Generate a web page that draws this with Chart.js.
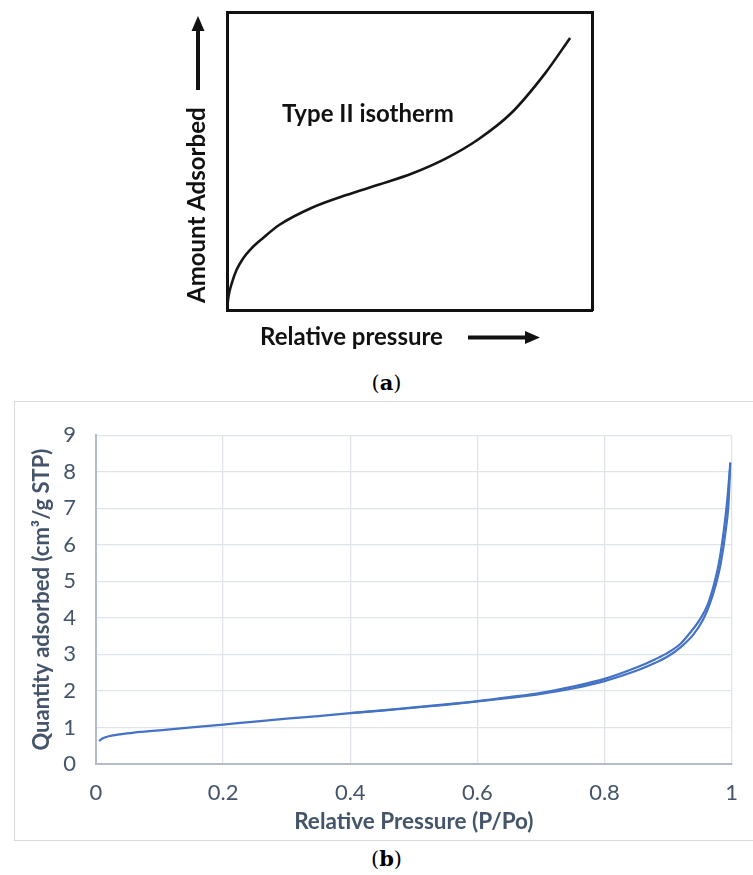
<!DOCTYPE html>
<html>
<head>
<meta charset="utf-8">
<script src="https://cdn.jsdelivr.net/npm/chart.js@4.4.1/dist/chart.umd.min.js"></script>
<style>
  body { margin: 0; background: #fff; width: 753px; height: 875px; position: relative; overflow: hidden; }
  #wrapA { position: absolute; left: 170px; top: 0; width: 440px; height: 360px; }
  #wrapB { position: absolute; left: 14px; top: 401px; width: 760px; height: 440px;
           border: 1px solid #d9d9d9; box-sizing: border-box; }
  #canvasB { position: absolute; left: 0; top: 0; }
  .cap { position: absolute; left: 0; width: 753px; text-align: center; transform: translateX(10px);
         font-family: "DejaVu Serif", "Liberation Serif", serif; font-size: 21px; color: #000; }
</style>
</head>
<body>
<div id="wrapA"><canvas id="canvasA" width="440" height="360"></canvas></div>
<div class="cap" style="top: 370px;">(<b>a</b>)</div>
<div id="wrapB"><canvas id="canvasB" width="739" height="438"></canvas></div>
<div class="cap" style="top: 846px;">(<b>b</b>)</div>
<script>
// (a) schematic Type II isotherm
const sketchP = [0, 0.004, 0.013, 0.026, 0.044, 0.067, 0.099, 0.144, 0.234, 0.327, 0.417, 0.507,
  0.599, 0.689, 0.779, 0.872, 0.94];
const sketchQ = [0, 0.045, 0.089, 0.134, 0.173, 0.207, 0.242, 0.286, 0.344, 0.386, 0.421, 0.458,
  0.508, 0.573, 0.661, 0.795, 0.913];

// (b) measured isotherm, adsorption and desorption branches
const adsP = [0.005, 0.01, 0.02, 0.04, 0.06, 0.1, 0.15, 0.2, 0.25, 0.3, 0.35, 0.4, 0.45, 0.5, 0.55, 0.6,
  0.65, 0.7, 0.75, 0.8, 0.85, 0.88, 0.9, 0.92, 0.94, 0.955, 0.965, 0.975, 0.983, 0.99, 0.995, 0.998];
const adsQ = [0.63, 0.7, 0.76, 0.82, 0.86, 0.92, 1.0, 1.08, 1.16, 1.24, 1.31, 1.39, 1.46, 1.54, 1.62, 1.71,
  1.81, 1.92, 2.07, 2.27, 2.55, 2.77, 2.95, 3.2, 3.55, 3.95, 4.35, 4.9, 5.5, 6.3, 7.1, 8.25];
const desP = [0.4, 0.45, 0.5, 0.55, 0.6, 0.65, 0.7, 0.75, 0.8, 0.85, 0.88, 0.9, 0.92, 0.935, 0.95,
  0.962, 0.972, 0.98, 0.987, 0.993, 0.998];
const desQ = [1.39, 1.47, 1.55, 1.63, 1.72, 1.83, 1.95, 2.12, 2.33, 2.64, 2.87, 3.05, 3.3, 3.6, 3.95,
  4.35, 4.9, 5.5, 6.3, 7.2, 8.25];

const yTicks = [0, 1, 2, 3, 4, 5, 6, 7, 8, 9];
const xTicks = [0, 0.2, 0.4, 0.6, 0.8, 1];

const toPoints = (xs, ys) => xs.map((x, i) => ({ x: x, y: ys[i] }));

const ink = "#44546a";
const uiFont = "Lato, 'Open Sans', sans-serif";

// arrows + labels for the sketch
const sketchLabels = {
  id: "sketchLabels",
  afterDraw(chart) {
    const ctx = chart.ctx;
    ctx.save();
    ctx.fillStyle = "#111";
    ctx.strokeStyle = "#111";
    ctx.font = "bold 24px " + uiFont;
    ctx.textBaseline = "alphabetic";
    ctx.fillText("Type II isotherm", 112, 122);
    ctx.fillText("Relative pressure", 90, 345);

    // right arrow
    ctx.lineWidth = 4;
    ctx.beginPath();
    ctx.moveTo(298, 337.5);
    ctx.lineTo(358, 337.5);
    ctx.stroke();
    ctx.beginPath();
    ctx.moveTo(370, 337.5);
    ctx.lineTo(355, 331);
    ctx.lineTo(355, 344);
    ctx.closePath();
    ctx.fill();

    // vertical label + up arrow
    ctx.save();
    ctx.translate(35, 303);
    ctx.rotate(-Math.PI / 2);
    ctx.fillText("Amount Adsorbed", 0, 0);
    ctx.restore();
    ctx.beginPath();
    ctx.moveTo(28, 90);
    ctx.lineTo(28, 28);
    ctx.stroke();
    ctx.beginPath();
    ctx.moveTo(28, 16);
    ctx.lineTo(21.5, 31);
    ctx.lineTo(34.5, 31);
    ctx.closePath();
    ctx.fill();
    ctx.restore();
  },
};

const boxBorder = { display: true, color: "#111", width: 3 };
const hidden = { display: false };

new Chart(document.getElementById("canvasA"), {
  type: "line",
  data: {
    datasets: [
      {
        data: toPoints(sketchP, sketchQ),
        borderColor: "#151515",
        borderWidth: 2.6,
        pointRadius: 0,
        cubicInterpolationMode: "monotone",
      },
    ],
  },
  options: {
    responsive: false,
    animation: false,
    plugins: { legend: hidden, tooltip: { enabled: false } },
    layout: { padding: 0 },
    scales: {
      x: {
        type: "linear", min: 0, max: 1, position: "bottom",
        ticks: hidden, grid: { display: false, drawTicks: false }, border: boxBorder,
        afterFit: (s) => { s.height = 50; },
      },
      x2: {
        type: "linear", min: 0, max: 1, position: "top",
        ticks: hidden, grid: { display: false, drawTicks: false }, border: boxBorder,
        afterFit: (s) => { s.height = 12; },
      },
      y: {
        type: "linear", min: 0, max: 1, position: "left",
        ticks: hidden, grid: { display: false, drawTicks: false }, border: boxBorder,
        afterFit: (s) => { s.width = 57; },
      },
      y2: {
        type: "linear", min: 0, max: 1, position: "right",
        ticks: hidden, grid: { display: false, drawTicks: false }, border: boxBorder,
        afterFit: (s) => { s.width = 18; },
      },
    },
  },
  plugins: [sketchLabels],
});

new Chart(document.getElementById("canvasB"), {
  type: "line",
  data: {
    datasets: [
      {
        label: "Adsorption",
        data: toPoints(adsP, adsQ),
        borderColor: "#4472c4",
        borderWidth: 2.2,
        pointRadius: 0,
        cubicInterpolationMode: "monotone",
      },
      {
        label: "Desorption",
        data: toPoints(desP, desQ),
        borderColor: "#4472c4",
        borderWidth: 2.2,
        pointRadius: 0,
        cubicInterpolationMode: "monotone",
      },
    ],
  },
  options: {
    responsive: false,
    animation: false,
    plugins: { legend: hidden, tooltip: { enabled: false } },
    layout: { padding: { top: 26, right: 10, left: 0, bottom: 0 } },
    scales: {
      x: {
        type: "linear", min: 0, max: 1,
        afterBuildTicks: (s) => { s.ticks = xTicks.map((v) => ({ value: v })); },
        ticks: {
          color: ink, font: { family: uiFont, size: 22 }, padding: 16, maxRotation: 0,
          callback: (v) => String(v),
        },
        grid: { color: "#dfe3ea", lineWidth: 1.3, drawTicks: false },
        border: { color: "#b4bccb", width: 2 },
        title: {
          display: true, text: "Relative Pressure (P/Po)", color: ink,
          font: { family: uiFont, size: 22.5, weight: "bold" }, padding: { top: 0, bottom: 5 },
        },
        afterFit: (s) => { s.height = 76; },
      },
      y: {
        type: "linear", min: 0, max: 9,
        afterBuildTicks: (s) => { s.ticks = yTicks.map((v) => ({ value: v })); },
        ticks: { color: ink, font: { family: uiFont, size: 22 }, padding: 20 },
        grid: { color: "#dfe3ea", lineWidth: 1.3, drawTicks: false },
        border: { color: "#b4bccb", width: 2 },
        title: {
          display: true, text: "Quantity adsorbed (cm\u00b3/g STP)", color: ink,
          font: { family: uiFont, size: 22, weight: "bold" }, padding: { top: 14, bottom: 0 },
        },
        afterFit: (s) => { s.width = 81; },
      },
    },
  },
});
</script>
</body>
</html>
